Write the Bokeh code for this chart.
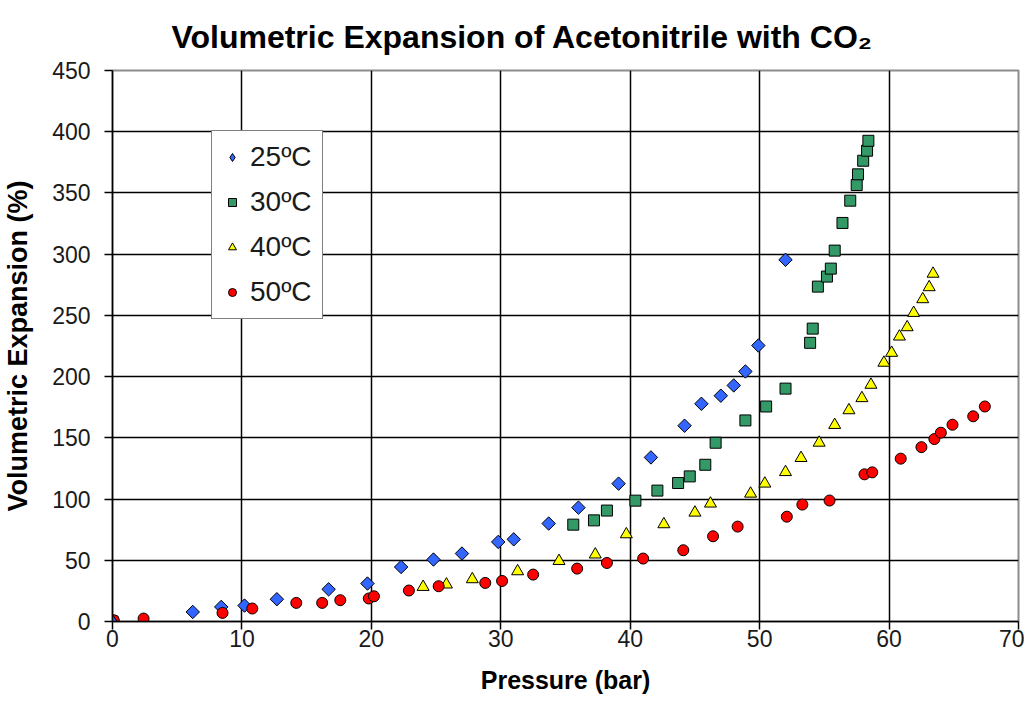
import numpy as np
from bokeh.plotting import figure
from bokeh.models import Range1d, FixedTicker, Legend, LegendItem
from bokeh.embed import file_html
from bokeh.resources import INLINE

# ---- data ----
p25 = [0.0, 6.2, 8.4, 10.2, 12.7, 16.7, 19.7, 22.3, 24.8, 27.0, 29.8, 31.0, 33.7, 36.0,
       39.1, 41.6, 44.2, 45.5, 47.0, 48.0, 48.9, 49.9, 52.0]
v25 = [0.0, 7.8, 11.9, 13.0, 18.2, 26.3, 31.0, 44.5, 50.6, 55.5, 65.0, 67.1, 80.0, 93.0,
       112.6, 134.0, 159.9, 177.8, 184.4, 192.8, 204.2, 225.4, 295.4]

p30 = [0.0, 35.6, 37.2, 38.2, 40.4, 42.1, 43.7, 44.6, 45.8, 46.6, 48.9, 50.5, 52.0, 53.9,
       54.1, 54.5, 55.2, 55.5, 55.8, 56.4, 57.0, 57.5, 57.6, 58.0, 58.3, 58.4]
v30 = [0.0, 79.1, 82.6, 90.6, 98.7, 106.9, 113.1, 118.5, 128.0, 146.0, 164.2, 175.6, 190.2, 227.6,
       239.2, 273.5, 281.7, 288.2, 302.9, 325.5, 343.7, 356.5, 365.2, 376.3, 384.5, 392.6]

p40 = [0.0, 24.0, 25.8, 27.8, 31.3, 34.5, 37.3, 39.7, 42.6, 45.0, 46.2, 49.3, 50.4, 52.0,
       53.2, 54.6, 55.8, 56.9, 57.9, 58.6, 59.6, 60.2, 60.8, 61.4, 61.9, 62.6, 63.1, 63.4]
v40 = [0.0, 28.2, 30.2, 34.5, 41.0, 49.4, 54.7, 71.2, 79.4, 88.9, 96.3, 104.4, 112.6, 122.0,
       133.5, 146.0, 160.5, 172.5, 182.4, 193.3, 211.3, 219.4, 232.7, 240.3, 252.0, 263.2, 273.0, 284.0]

p50 = [0.1, 2.4, 8.5, 10.8, 14.2, 16.2, 17.6, 19.8, 20.2, 22.9, 25.2, 28.8, 30.1, 32.5, 35.9,
       38.2, 41.0, 44.1, 46.4, 48.3, 52.1, 53.3, 55.4, 58.1, 58.7, 60.9, 62.5, 63.5, 64.0, 64.9,
       66.5, 67.4]
v50 = [1.0, 2.4, 7.0, 10.6, 15.2, 15.2, 17.4, 18.8, 20.6, 25.3, 28.8, 31.5, 33.1, 38.3, 43.2,
       47.8, 51.4, 58.2, 69.6, 77.5, 85.6, 95.5, 98.8, 120.2, 121.8, 133.0, 142.4, 149.0, 154.2, 160.7,
       167.6, 175.6]

labels = ["25ºC", "30ºC", "40ºC", "50ºC"]
x_ticks = [0, 10, 20, 30, 40, 50, 60, 70]
y_ticks = [0, 50, 100, 150, 200, 250, 300, 350, 400, 450]

FONT = "Liberation Sans"

p = figure(frame_width=906, frame_height=551,
           min_border_left=106, min_border_right=6, min_border_top=70, min_border_bottom=79,
           x_range=Range1d(0, 70), y_range=Range1d(0, 450),
           output_backend="svg", toolbar_location=None, tools="",
           background_fill_color="white", border_fill_color="white")

p.title.text = "Volumetric Expansion of Acetonitrile with CO\u2082"
p.title.text_font = FONT
p.title.text_font_size = "32px"
p.title.text_font_style = "bold"
p.title.align = "left"
p.title.offset = 59
p.title.standoff = 32
p.title.text_color = "black"

p.outline_line_color = "#8c8c8c"
p.outline_line_width = 2

for ax, ticks in ((p.xaxis, x_ticks), (p.yaxis, y_ticks)):
    ax.ticker = FixedTicker(ticks=ticks)
    ax.minor_tick_line_color = None
    ax.major_tick_in = 0
    ax.major_tick_out = 8
    ax.major_tick_line_color = "black"
    ax.major_tick_line_width = 1.5
    ax.axis_line_color = "black"
    ax.axis_line_width = 1.5
    ax.major_label_text_font = FONT
    ax.major_label_text_font_size = "23px"
    ax.major_label_text_color = "#1a1a1a"
    ax.axis_label_text_font = FONT
    ax.axis_label_text_font_style = "bold"
    ax.axis_label_text_color = "black"

p.xaxis.axis_label = "Pressure (bar)"
p.yaxis.axis_label = "Volumetric Expansion (%)"
p.xaxis.axis_label_text_font_size = "25px"
p.yaxis.axis_label_text_font_size = "27px"
p.xaxis.major_label_standoff = 0
p.xaxis.axis_label_standoff = 16
p.yaxis.major_label_standoff = 14
p.yaxis.axis_label_standoff = 16

p.xgrid.ticker = FixedTicker(ticks=x_ticks)
p.ygrid.ticker = FixedTicker(ticks=y_ticks)
for g in (p.xgrid, p.ygrid):
    g.grid_line_color = "black"
    g.grid_line_width = 1.5

r25 = p.scatter(p25, v25, marker="square", angle=np.pi / 4, size=9.5,
                fill_color="#3366FF", line_color="black", line_width=1)
r30 = p.scatter(p30, v30, marker="square", size=11,
                fill_color="#339966", line_color="black", line_width=1)
r40 = p.scatter(p40, v40, marker="triangle", size=12,
                fill_color="#FFFF00", line_color="black", line_width=1)
r50 = p.scatter(p50, v50, marker="circle", size=11,
                fill_color="#FF0000", line_color="black", line_width=1)

# legend glyph for the 25ºC series: a diamond drawn on its first (origin) point
k25 = p.scatter(p25[:1], v25[:1], marker="diamond", size=14,
                fill_color="#3366FF", line_color="black", line_width=1)

legend = Legend(items=[LegendItem(label=labels[0], renderers=[k25]),
                       LegendItem(label=labels[1], renderers=[r30]),
                       LegendItem(label=labels[2], renderers=[r40]),
                       LegendItem(label=labels[3], renderers=[r50])],
                location=(99, 302))
legend.label_text_font = FONT
legend.label_text_font_size = "28px"
legend.label_text_color = "#1a1a1a"
legend.glyph_width = 20
legend.glyph_height = 20
legend.label_height = 30
legend.spacing = 13
legend.padding = 10
legend.margin = 0
legend.label_standoff = 8
legend.border_line_color = "black"
legend.border_line_width = 1.5
legend.background_fill_color = "white"
legend.background_fill_alpha = 1.0
p.add_layout(legend)

open("out.html", "w").write(file_html(p, INLINE))
